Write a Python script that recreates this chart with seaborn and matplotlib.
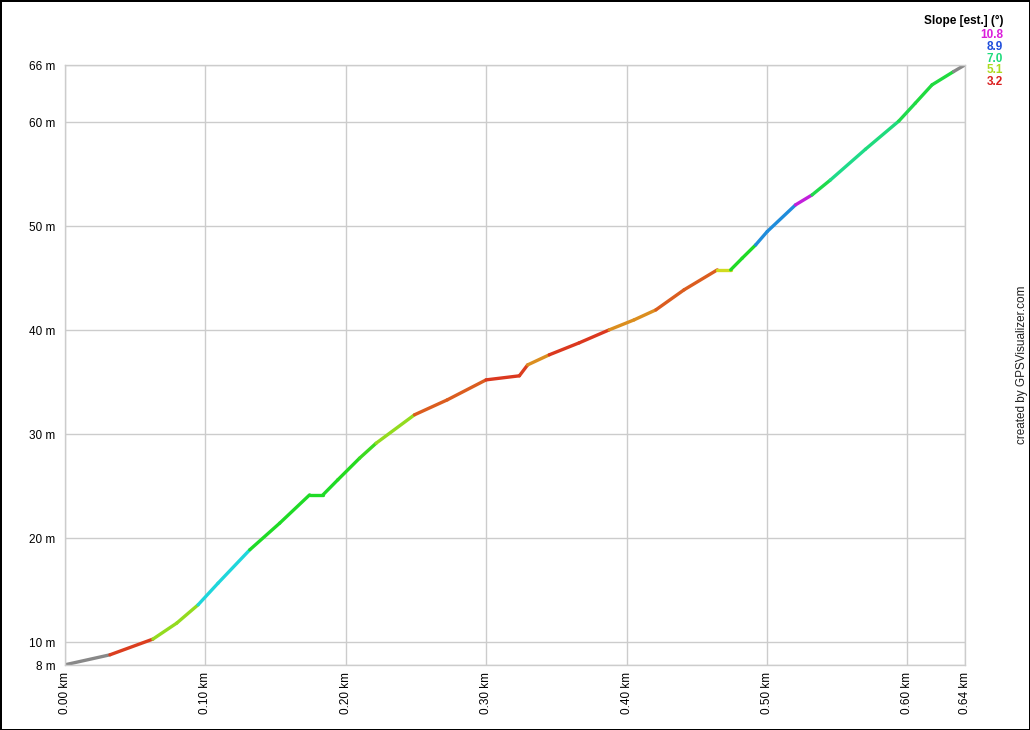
import colorsys
import numpy as np
import pandas as pd
import matplotlib
matplotlib.use("Agg")
import matplotlib.pyplot as plt
import seaborn as sns

# elevation profile (distance in km, elevation in m)
distance_km = [0.0000, 0.0320, 0.0626, 0.0796, 0.0948, 0.1090, 0.1316, 0.1529,
               0.1742, 0.1837, 0.1943, 0.2098, 0.2216, 0.2489, 0.2723, 0.2999,
               0.3236, 0.3295, 0.3449, 0.3662, 0.3876, 0.4053, 0.4208, 0.4409,
               0.4646, 0.4741, 0.4823, 0.4919, 0.5001, 0.5203, 0.5321, 0.5452,
               0.5701, 0.5938, 0.6056, 0.6175, 0.6329, 0.6410]
elevation_m = [7.82, 8.78, 10.29, 11.83, 13.59, 15.67, 18.88, 21.44,
               24.16, 24.16, 25.61, 27.69, 29.13, 31.86, 33.30, 35.22,
               35.61, 36.66, 37.63, 38.78, 40.03, 40.99, 41.95, 43.88,
               45.80, 45.80, 46.92, 48.20, 49.48, 52.05, 53.01, 54.45,
               57.40, 60.10, 61.83, 63.59, 64.87, 65.51]
# estimated slope (deg) of each segment between two points, nan = no estimate
segment_slope = [np.nan, 3.45, 5.3, 5.3, 7.8, 7.8, 6.3, 6.3,
                 6.3, 6.3, 6.2, 6.0, 5.3, 3.7, 3.7, 3.4,
                 3.45, 4.1, 3.4, 3.4, 4.1, 4.1, 3.7, 3.7,
                 4.8, 6.3, 6.3, 8.4, 8.4, 10.6, 6.6, 7.1,
                 7.0, 6.6, 6.5, 6.5, np.nan]

legend_values = [10.8, 8.9, 7.0, 5.1, 3.2]
y_ticks = [10, 20, 30, 40, 50, 60]
x_ticks = [0.0, 0.1, 0.2, 0.3, 0.4, 0.5, 0.6]
y_range = (7.8, 65.5)
x_range = (0.0, 0.641)


def slope_color(s):
    # hue runs red -> yellow-green -> green -> blue -> magenta over 3.2..10.8 deg
    if np.isnan(s):
        return "#888888"
    hue = np.clip((s - 3.2) / 7.6, 0, 1) * 300 / 360
    return colorsys.hsv_to_rgb(hue, 0.86, 0.86)


# one two-point line per segment so each one gets its own colour
rows = []
for i, s in enumerate(segment_slope):
    for j in (i, i + 1):
        rows.append({"seg": i, "km": distance_km[j], "m": elevation_m[j]})
df = pd.DataFrame(rows)
palette = {i: slope_color(s) for i, s in enumerate(segment_slope)}

sns.set_theme(style="white")
plt.rcParams["font.family"] = ["Liberation Sans", "DejaVu Sans"]

fig = plt.figure(figsize=(10.3, 7.3), dpi=100)
fig.patch.set_edgecolor("black")
fig.patch.set_linewidth(2)
ax = fig.add_axes([65 / 1030, 65 / 730, 900 / 1030, 600 / 730])

sns.lineplot(data=df, x="km", y="m", hue="seg", palette=palette, units="seg",
             estimator=None, sort=False, legend=False, linewidth=2.4,
             solid_capstyle="round", ax=ax)

ax.set_xlim(*x_range)
ax.set_ylim(*y_range)
ax.set_xlabel("")
ax.set_ylabel("")

ax.set_yticks([y_range[0]] + y_ticks + [y_range[1]])
ax.set_yticklabels([f"{round(v):d} m" for v in [y_range[0]] + y_ticks + [y_range[1]]])
ax.set_xticks(x_ticks + [x_range[1]])
ax.set_xticklabels([f"{v:.2f} km" for v in x_ticks + [x_range[1]]], rotation=90)
ax.tick_params(axis="both", length=0, labelsize=8.5, colors="black")
ax.tick_params(axis="y", pad=7)
ax.tick_params(axis="x", pad=5)

ax.grid(True, color="#cccccc", linewidth=1)
for sp in ax.spines.values():
    sp.set_color("#cccccc")
    sp.set_linewidth(1)

# slope legend in the top right corner
fig.text(1003 / 1030, 1 - 21 / 730, "Slope [est.] (°)", ha="right", va="center",
         fontsize=8.5, fontweight="bold", color="black")
for k, v in enumerate(legend_values):
    fig.text(1003 / 1030, 1 - (35 + k * 11.8) / 730, f"{v:.1f}", ha="right",
             va="center", fontsize=8.5, fontweight="bold", color=slope_color(v))

fig.text(1022 / 1030, 1 - 365 / 730, "created by GPSVisualizer.com", rotation=90,
         ha="center", va="center", fontsize=8.5, color="#222222")

fig.savefig("out.png", dpi=100)
